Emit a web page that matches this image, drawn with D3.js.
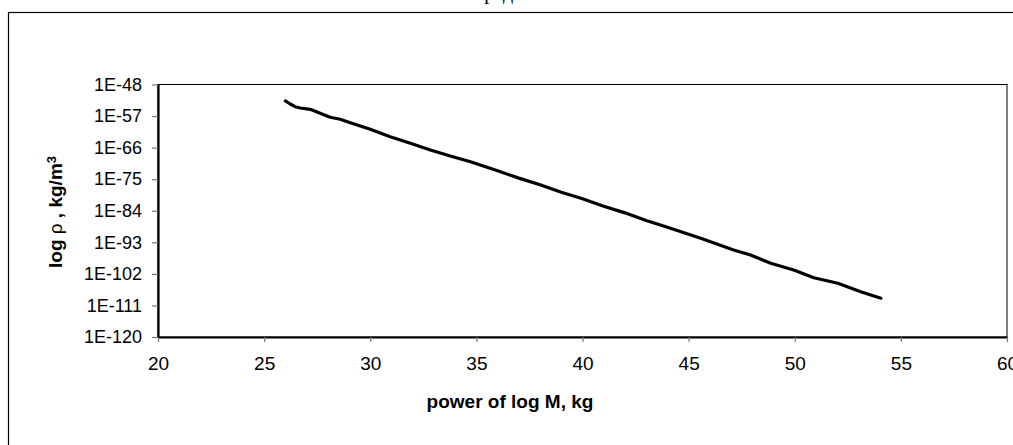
<!DOCTYPE html>
<html>
<head>
<meta charset="utf-8">
<script src="https://cdn.jsdelivr.net/npm/d3@7"></script>
<style>
  body { margin: 0; background: #fff; }
  svg { display: block; }
  text { font-family: Arial, "Liberation Sans", sans-serif; fill: #000; }
</style>
</head>
<body>
<div id="chart"></div>
<script>
// log M (power) and log density (power)
var massPower = [26.0, 26.23, 26.46, 26.7, 27.17, 27.64, 28.11, 28.58, 29.06, 30.0,
    30.94, 31.89, 32.83, 33.77, 34.72, 36.0, 37.0, 38.0, 39.0, 40.0, 41.0, 42.0,
    43.0, 44.0, 45.0, 45.57, 47.12, 47.92, 48.87, 49.95, 50.9, 52.03, 53.11, 54.06];
var densityPower = [-52.7, -53.56, -54.33, -54.7, -55.07, -56.2, -57.35, -57.92, -58.89, -60.77,
    -62.88, -64.77, -66.68, -68.39, -70.01, -72.6, -74.7, -76.6, -78.7, -80.6, -82.7, -84.6,
    -86.8, -88.7, -90.7, -91.86, -95.19, -96.62, -98.98, -100.9, -103.09, -104.69, -107.08, -108.96];

var xTicks = [20, 25, 30, 35, 40, 45, 50, 55, 60];
var yTicks = [-120, -111, -102, -93, -84, -75, -66, -57, -48];

var titleText = "Зависимость средней плотности от массы";

var svgWidth = 1013;
var svgHeight = 445;

var chartMargin = { top: 84.5, right: 6, bottom: 108, left: 158 };
var width = svgWidth - chartMargin.left - chartMargin.right;
var height = svgHeight - chartMargin.top - chartMargin.bottom;

var svg = d3.select("#chart")
    .append("svg")
    .attr("width", svgWidth)
    .attr("height", svgHeight);

// outer frame (runs off the right and bottom edges)
svg.append("rect")
    .attr("x", 8.5).attr("y", 12.5)
    .attr("width", 1100).attr("height", 600)
    .attr("fill", "none").attr("stroke", "#000").attr("stroke-width", 1.2);

// title, mostly cut off at the top
svg.append("text")
    .attr("x", 540).attr("y", -1.5)
    .attr("text-anchor", "middle")
    .style("font-family", "'Liberation Serif', 'Times New Roman', serif")
    .style("font-size", "20px")
    .text(titleText);

var chartGroup = svg.append("g")
    .attr("transform", `translate(${chartMargin.left}, ${chartMargin.top})`);

var xScale = d3.scaleLinear().domain([20, 60]).range([0, width]);
var yScale = d3.scaleLinear().domain([-120, -48]).range([height, 0]);

// plot area border
chartGroup.append("rect")
    .attr("x", 0).attr("y", 0)
    .attr("width", width).attr("height", height)
    .attr("fill", "none").attr("stroke", "#000").attr("stroke-width", 1);

// axes
var bottomAxis = d3.axisBottom(xScale).tickValues(xTicks).tickSize(5).tickSizeOuter(0).tickPadding(12);
var leftAxis = d3.axisLeft(yScale).tickValues(yTicks).tickSize(6).tickSizeOuter(0).tickPadding(10)
    .tickFormat(d => "1E" + d);

var xAxis = chartGroup.append("g")
    .attr("transform", `translate(0, ${height})`)
    .call(bottomAxis);
xAxis.selectAll("text").style("font-size", "19px").attr("dy", "0.85em");

var yAxis = chartGroup.append("g").call(leftAxis);
yAxis.selectAll("text").style("font-size", "18px");

[xAxis, yAxis].forEach(function (ax) {
    ax.select(".domain").attr("stroke", "#000").attr("stroke-width", 2.2);
    ax.selectAll(".tick line").attr("stroke", "#777").attr("stroke-width", 1.2);
    ax.selectAll("text").style("font-family", "Arial, 'Liberation Sans', sans-serif").attr("fill", "#000");
});

// data line
var line = d3.line()
    .x((d, i) => xScale(massPower[i]))
    .y(d => yScale(d));

chartGroup.append("path")
    .datum(densityPower)
    .attr("d", line)
    .attr("fill", "none")
    .attr("stroke", "#000")
    .attr("stroke-width", 3.2)
    .attr("stroke-linejoin", "round")
    .attr("stroke-linecap", "round");

// axis titles
svg.append("text")
    .attr("x", 510).attr("y", 408)
    .attr("text-anchor", "middle")
    .style("font-size", "19px").style("font-weight", "bold")
    .text("power of log M, kg");

var yLabel = svg.append("text")
    .attr("transform", "translate(62, 212) rotate(-90)")
    .attr("text-anchor", "middle")
    .style("font-size", "19px").style("font-weight", "bold");
yLabel.append("tspan").text("log ");
yLabel.append("tspan").style("font-weight", "normal").text("ρ");
yLabel.append("tspan").text(" , kg/m");
yLabel.append("tspan").attr("dy", "-0.5em").style("font-size", "13px").text("3");
</script>
</body>
</html>
